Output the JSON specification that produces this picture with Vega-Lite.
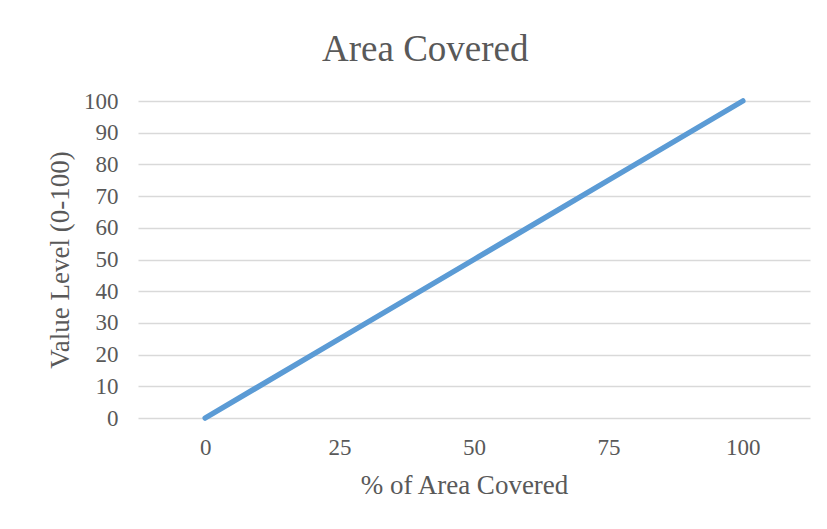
{
  "$schema": "https://vega.github.io/schema/vega-lite/v6.json",
  "autosize": {"type": "none"},
  "width": 672,
  "height": 317,
  "padding": {"left": 138, "top": 101, "right": 17, "bottom": 111},
  "background": "white",
  "title": {
    "text": "Area Covered",
    "font": "Liberation Serif",
    "fontSize": 37,
    "fontWeight": "normal",
    "color": "#595959",
    "anchor": "middle",
    "frame": "bounds",
    "offset": 21,
    "dx": -3
  },
  "data": {
    "values": [
      {"pct": 0, "value": 0},
      {"pct": 25, "value": 25},
      {"pct": 50, "value": 50},
      {"pct": 75, "value": 75},
      {"pct": 100, "value": 100}
    ]
  },
  "mark": {"type": "line", "color": "#5b9bd5", "strokeWidth": 5.5, "strokeCap": "round", "strokeJoin": "round"},
  "encoding": {
    "x": {
      "field": "pct",
      "type": "ordinal",
      "sort": "ascending",
      "scale": {"type": "point", "padding": 0.5},
      "axis": {
        "title": "% of Area Covered",
        "labelAngle": 0,
        "grid": false,
        "domain": false,
        "ticks": false,
        "tickSize": 0,
        "labelPadding": 18,
        "titlePadding": 13,
        "titleX": 326
      }
    },
    "y": {
      "field": "value",
      "type": "quantitative",
      "scale": {"domain": [0, 100], "nice": false},
      "axis": {
        "title": "Value Level (0-100)",
        "values": [0, 10, 20, 30, 40, 50, 60, 70, 80, 90, 100],
        "grid": true,
        "domain": false,
        "ticks": false,
        "tickSize": 0,
        "labelPadding": 20,
        "titlePadding": 9
      }
    }
  },
  "config": {
    "view": {"stroke": null},
    "axis": {
      "labelFont": "Liberation Serif",
      "labelFontSize": 23,
      "labelColor": "#595959",
      "titleFont": "Liberation Serif",
      "titleFontSize": 27,
      "titleFontWeight": "normal",
      "titleColor": "#595959",
      "gridColor": "#d9d9d9",
      "gridWidth": 1.5,
      "gridOpacity": 1
    }
  }
}
